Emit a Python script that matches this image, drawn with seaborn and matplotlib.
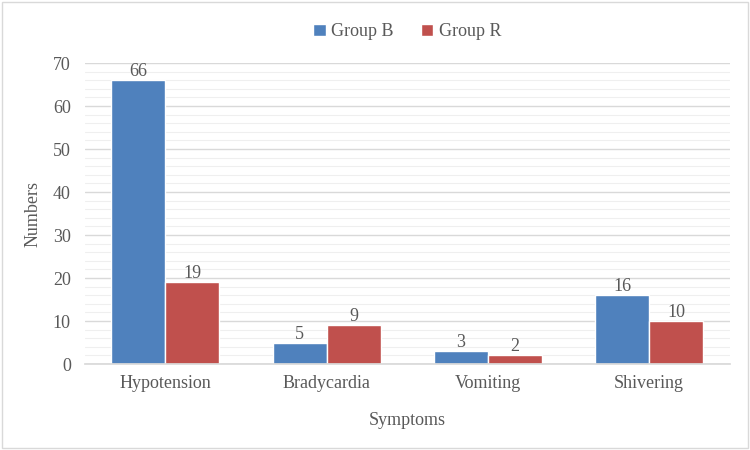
import matplotlib
matplotlib.use("Agg")
import matplotlib.pyplot as plt
import numpy as np
import pandas as pd
import seaborn as sns
from matplotlib.ticker import MultipleLocator

# data
symptoms = ["Hypotension", "Bradycardia", "Vomiting", "Shivering"]
group_b = [66, 5, 3, 16]
group_r = [19, 9, 2, 10]

df = pd.DataFrame({
    "Symptoms": symptoms * 2,
    "Numbers": group_b + group_r,
    "Group": ["Group B"] * 4 + ["Group R"] * 4,
})

sns.set_theme(style="white")
plt.rcParams['font.family'] = ['Liberation Serif', 'DejaVu Serif']
txt = "#595959"
fs = 13

fig = plt.figure(figsize=(7.5, 4.5), dpi=100)
ax = fig.add_axes([0.113, 0.191, 0.86, 0.669])

sns.barplot(data=df, x="Symptoms", y="Numbers", hue="Group",
            palette=["#4F81BD", "#C0504D"], width=0.67, gap=0,
            saturation=1, ax=ax, legend=True)

ax.set_ylim(0, 70)
ax.yaxis.set_major_locator(MultipleLocator(10))
ax.yaxis.set_minor_locator(MultipleLocator(2))
ax.grid(axis="y", which="major", color="#D9D9D9", linewidth=1.0)
ax.grid(axis="y", which="minor", color="#EFEFEF", linewidth=0.8)
ax.set_axisbelow(True)
for s in ["top", "right", "left"]:
    ax.spines[s].set_visible(False)
ax.spines["bottom"].set_color("#D9D9D9")
ax.tick_params(axis="both", which="both", length=0, colors=txt, labelsize=fs)
ax.tick_params(axis="x", pad=8)
ax.tick_params(axis="y", pad=10)

for c in ax.containers:
    ax.bar_label(c, fontsize=fs, color=txt, padding=0)

ax.set_xlabel("Symptoms", fontsize=fs, color=txt, labelpad=14)
ax.set_ylabel("Numbers", fontsize=fs, color=txt, labelpad=8)

ax.legend(loc="center", bbox_to_anchor=(0.5, 1.103), ncol=2, frameon=False,
          fontsize=fs, labelcolor=txt, handlelength=0.7, handleheight=0.7,
          handletextpad=0.3, columnspacing=1.5)

fig.patches.append(plt.Rectangle((0.003, 0.004), 0.994, 0.992, transform=fig.transFigure,
                                 fill=False, edgecolor="#D9D9D9", linewidth=1))

fig.savefig("out.png", dpi=100)
